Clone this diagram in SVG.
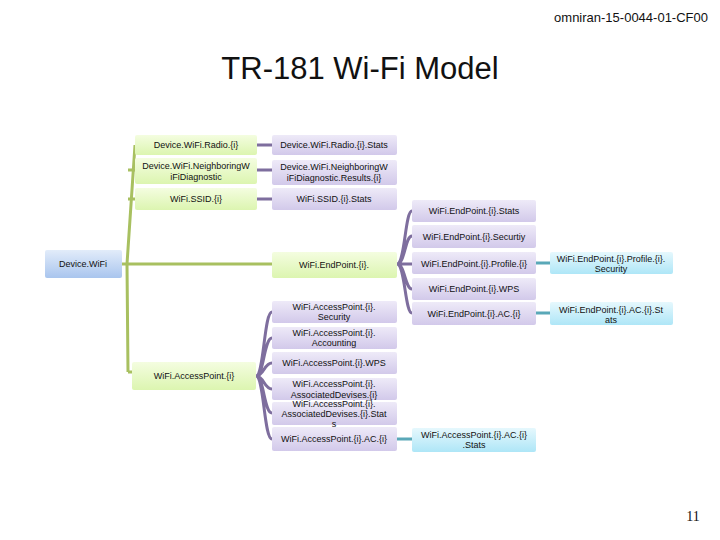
<svg xmlns="http://www.w3.org/2000/svg" width="720" height="540" viewBox="0 0 720 540">
<defs>
<linearGradient id="gG" x1="0" y1="0" x2="0" y2="1"><stop offset="0" stop-color="#f4fde0"/><stop offset="1" stop-color="#dcf5b0"/></linearGradient>
<linearGradient id="gP" x1="0" y1="0" x2="0" y2="1"><stop offset="0" stop-color="#eeeaf8"/><stop offset="1" stop-color="#d2c9ea"/></linearGradient>
<linearGradient id="gC" x1="0" y1="0" x2="0" y2="1"><stop offset="0" stop-color="#e6f8fd"/><stop offset="1" stop-color="#aee6f7"/></linearGradient>
<linearGradient id="gB" x1="0" y1="0" x2="0" y2="1"><stop offset="0" stop-color="#e2ecfa"/><stop offset="1" stop-color="#a9c5ee"/></linearGradient>
</defs>
<style>
text{font-family:"Liberation Sans",Arial,sans-serif;font-size:9px;fill:#111;text-anchor:middle}
.g{fill:url(#gG)}.p{fill:url(#gP)}.c{fill:url(#gC)}.b{fill:url(#gB)}
.lg{stroke:#a8c060;stroke-width:3;fill:none}
.lp{stroke:#7e6e9e;stroke-width:3;fill:none}
.lc{stroke:#5aa8b8;stroke-width:3;fill:none}
</style>
<rect width="720" height="540" fill="#fff"/>
<text x="708" y="22" style="font-size:13px;text-anchor:end">omniran-15-0044-01-CF00</text>
<text x="360" y="79" style="font-size:31px">TR-181 Wi-Fi Model</text>
<text x="693" y="521" style="font-family:'Liberation Serif',serif;font-size:14px">11</text>
<g id="connectors">
<path class="lg" d="M122 264H272M128 372L127 264L135 145M128 170H135M128 199H135M128 372H132"/>
<path class="lp" d="M257 145H272M257 170H272M257 199H272"/>
<path class="lp" d="M397 264C405 264 405 211 412 211M397 264C405 264 405 236 412 236M397 264H412M397 264C405 264 405 289 412 289M397 264C405 264 405 313 412 313"/>
<path class="lp" d="M256 376C264 376 264 312 272 312M256 376C264 376 264 338 272 338M256 376C264 376 264 363 272 363M256 376C264 376 264 389 272 389M256 376C264 376 264 413 272 413M256 376C264 376 264 439 272 439"/>
<path class="lc" d="M536 263H550M536 313H550M397 439H412"/>
</g>
<g id="wifi"><rect class="b" x="45" y="250" width="77" height="28" rx="2"/><text x="83" y="267">Device.WiFi</text></g>
<g id="radio"><rect class="g" x="135" y="135" width="122" height="20" rx="2"/><text x="196" y="148">Device.WiFi.Radio.{i}</text></g>
<g id="neigh"><rect class="g" x="135" y="158" width="122" height="26" rx="2"/><text x="196" y="169">Device.WiFi.NeighboringW</text><text x="196" y="180">iFiDiagnostic</text></g>
<g id="ssid"><rect class="g" x="135" y="188" width="122" height="22" rx="2"/><text x="196" y="202">WiFi.SSID.{i}</text></g>
<g id="ep"><rect class="g" x="272" y="252" width="125" height="26" rx="2"/><text x="334" y="268">WiFi.EndPoint.{i}.</text></g>
<g id="ap"><rect class="g" x="132" y="362" width="124" height="28" rx="2"/><text x="194" y="379">WiFi.AccessPoint.{i}</text></g>
<g id="radiostats"><rect class="p" x="272" y="135" width="125" height="20" rx="2"/><text x="334" y="148">Device.WiFi.Radio.{i}.Stats</text></g>
<g id="neighres"><rect class="p" x="272" y="160" width="125" height="25" rx="2"/><text x="334" y="170">Device.WiFi.NeighboringW</text><text x="334" y="181">iFiDiagnostic.Results.{i}</text></g>
<g id="ssidstats"><rect class="p" x="272" y="188" width="125" height="22" rx="2"/><text x="334" y="202">WiFi.SSID.{i}.Stats</text></g>
<g id="epstats"><rect class="p" x="412" y="200" width="124" height="22" rx="2"/><text x="474" y="214">WiFi.EndPoint.{i}.Stats</text></g>
<g id="epsec"><rect class="p" x="412" y="225" width="124" height="23" rx="2"/><text x="474" y="240">WiFi.EndPoint.{i}.Securtiy</text></g>
<g id="epprof"><rect class="p" x="412" y="252" width="124" height="22" rx="2"/><text x="474" y="267">WiFi.EndPoint.{i}.Profile.{i}</text></g>
<g id="epwps"><rect class="p" x="412" y="278" width="124" height="22" rx="2"/><text x="474" y="292">WiFi.EndPoint.{i}.WPS</text></g>
<g id="epac"><rect class="p" x="412" y="302" width="124" height="23" rx="2"/><text x="474" y="317">WiFi.EndPoint.{i}.AC.{i}</text></g>
<g id="epprofsec"><rect class="c" x="550" y="252" width="123" height="22" rx="2"/><text x="611" y="262">WiFi.EndPoint.{i}.Profile.{i}.</text><text x="611" y="272">Security</text></g>
<g id="epacstats"><rect class="c" x="550" y="302" width="123" height="23" rx="2"/><text x="611" y="313">WiFi.EndPoint.{i}.AC.{i}.St</text><text x="611" y="323">ats</text></g>
<g id="apsec"><rect class="p" x="272" y="301" width="125" height="22" rx="2"/><text x="334" y="310">WiFi.AccessPoint.{i}.</text><text x="334" y="320">Security</text></g>
<g id="apacc"><rect class="p" x="272" y="327" width="125" height="22" rx="2"/><text x="334" y="336">WiFi.AccessPoint.{i}.</text><text x="334" y="346">Accounting</text></g>
<g id="apwps"><rect class="p" x="272" y="352" width="125" height="22" rx="2"/><text x="334" y="366">WiFi.AccessPoint.{i}.WPS</text></g>
<g id="apassoc"><rect class="p" x="272" y="378" width="125" height="22" rx="2"/><text x="334" y="387">WiFi.AccessPoint.{i}.</text><text x="334" y="398">AssociatedDevises.{i}</text></g>
<g id="apassocstats"><rect class="p" x="272" y="402" width="125" height="23" rx="2"/><text x="334" y="407">WiFi.AccessPoint.{i}.</text><text x="334" y="417">AssociatedDevises.{i}.Stat</text><text x="334" y="427">s</text></g>
<g id="apac"><rect class="p" x="272" y="427" width="125" height="24" rx="2"/><text x="334" y="442">WiFi.AccessPoint.{i}.AC.{i}</text></g>
<g id="apacstats"><rect class="c" x="412" y="428" width="124" height="24" rx="2"/><text x="474" y="438">WiFi.AccessPoint.{i}.AC.{i}</text><text x="474" y="448">.Stats</text></g>
</svg>
